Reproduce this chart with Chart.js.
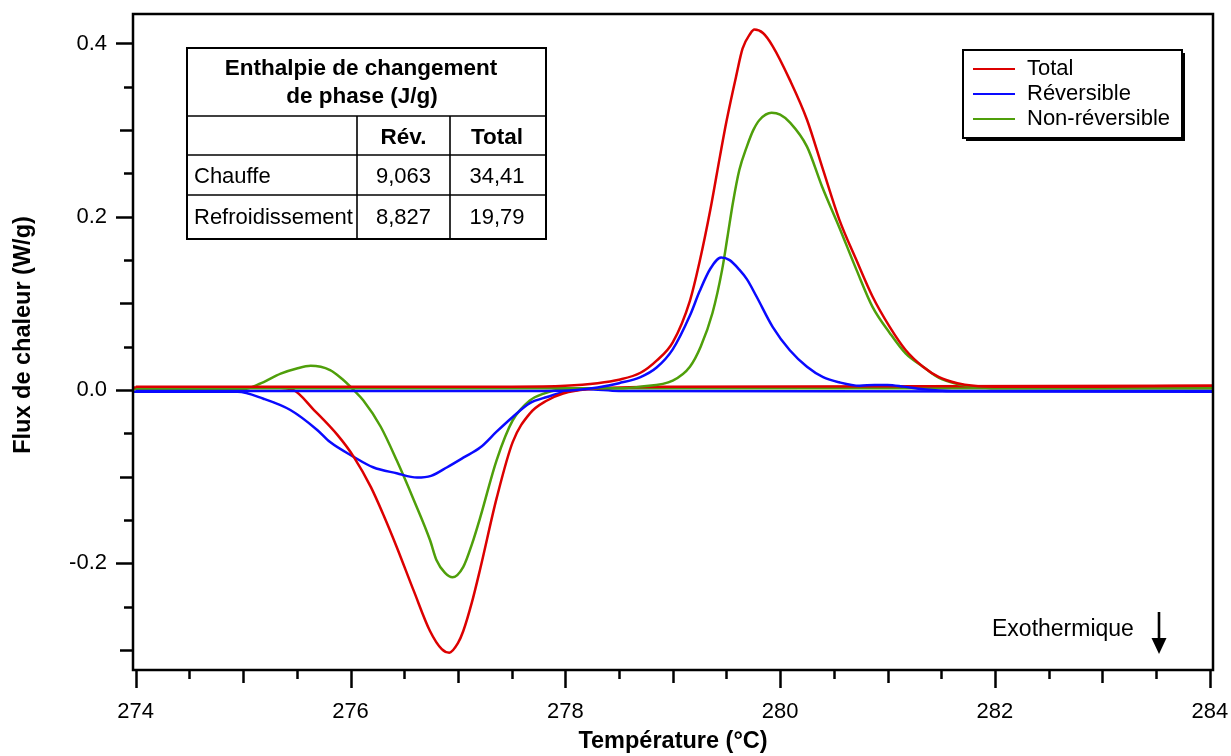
<!DOCTYPE html>
<html lang="fr">
<head>
<meta charset="utf-8">
<title>Flux de chaleur – DSC modulée</title>
<script src="https://cdn.jsdelivr.net/npm/chart.js@4.4.1/dist/chart.umd.min.js"></script>
<style>
  html, body { margin: 0; padding: 0; background: #ffffff; }
  #wrap { position: relative; width: 1231px; height: 756px; }
</style>
</head>
<body>
<div id="wrap"><canvas id="dsc"></canvas></div>
<script>
const FONT = '"Liberation Sans", Arial, Helvetica, sans-serif';

// Series colours
const RED = '#dc0000';
const BLUE = '#0a0aff';
const GREEN = '#4f9f0a';

// Axis ranges and tick labels
const xRange = [273.975, 284.03];
const yRange = [-0.323, 0.434];
const xTickStep = 2;     // labelled: 274 … 284
const yTickStep = 0.2;   // labelled: -0.2 … 0.4
const xTitle = 'Température (°C)';
const yTitle = 'Flux de chaleur (W/g)';

// Heating scan (Chauffe): temperature (°C) and heat flow (W/g)
const heatTotalT = [274.0, 277.5, 278.0, 278.3, 278.5, 278.7, 278.85, 279.0, 279.16, 279.25, 279.35, 279.44, 279.5, 279.59, 279.65, 279.72, 279.76, 279.84, 279.93, 280.09, 280.25, 280.4, 280.55, 280.71, 280.86, 281.02, 281.17, 281.33, 281.48, 281.65, 281.8, 282.0, 283.0, 284.03];
const heatTotalV = [0.004, 0.004, 0.005, 0.008, 0.012, 0.020, 0.034, 0.055, 0.103, 0.148, 0.208, 0.270, 0.310, 0.362, 0.394, 0.411, 0.416, 0.412, 0.397, 0.358, 0.312, 0.254, 0.197, 0.150, 0.108, 0.073, 0.046, 0.027, 0.015, 0.008, 0.005, 0.004, 0.004, 0.005];

const heatRevT = [274.0, 277.8, 278.1, 278.3, 278.5, 278.7, 278.85, 279.0, 279.16, 279.25, 279.35, 279.45, 279.53, 279.62, 279.69, 279.78, 279.93, 280.09, 280.25, 280.4, 280.55, 280.74, 280.88, 281.0, 281.15, 281.33, 281.6, 282.0, 284.03];
const heatRevV = [-0.001, -0.001, 0.0, 0.003, 0.008, 0.015, 0.026, 0.047, 0.086, 0.114, 0.140, 0.153, 0.150, 0.139, 0.128, 0.108, 0.073, 0.046, 0.027, 0.015, 0.009, 0.005, 0.006, 0.006, 0.004, 0.001, -0.001, -0.001, -0.001];

const heatNonRevT = [274.0, 278.5, 278.7, 279.0, 279.16, 279.26, 279.37, 279.46, 279.51, 279.56, 279.62, 279.69, 279.75, 279.81, 279.92, 280.0, 280.09, 280.25, 280.39, 280.55, 280.71, 280.86, 281.02, 281.17, 281.33, 281.48, 281.65, 281.8, 282.0, 284.03];
const heatNonRevV = [0.002, 0.002, 0.004, 0.011, 0.027, 0.050, 0.089, 0.139, 0.177, 0.216, 0.254, 0.281, 0.300, 0.312, 0.320, 0.318, 0.309, 0.281, 0.235, 0.188, 0.139, 0.096, 0.066, 0.042, 0.027, 0.014, 0.007, 0.004, 0.002, 0.002];

// Cooling scan (Refroidissement)
const coolTotalT = [273.975, 275.3, 275.47, 275.66, 275.88, 276.03, 276.19, 276.31, 276.43, 276.59, 276.74, 276.85, 276.92, 277.0, 277.05, 277.13, 277.21, 277.36, 277.51, 277.67, 277.83, 277.98, 278.2, 279.0, 284.03];
const coolTotalV = [0.003, 0.003, 0.0, -0.023, -0.052, -0.077, -0.112, -0.145, -0.181, -0.232, -0.278, -0.299, -0.303, -0.292, -0.278, -0.245, -0.205, -0.125, -0.060, -0.027, -0.012, -0.004, 0.001, 0.004, 0.005];

const coolRevT = [273.975, 274.95, 275.19, 275.44, 275.69, 275.81, 276.03, 276.21, 276.43, 276.62, 276.75, 276.9, 277.05, 277.21, 277.36, 277.51, 277.67, 277.83, 278.0, 278.2, 278.5, 284.03];
const coolRevV = [-0.002, -0.002, -0.010, -0.023, -0.046, -0.060, -0.077, -0.089, -0.096, -0.101, -0.099, -0.089, -0.078, -0.066, -0.048, -0.031, -0.015, -0.008, -0.002, 0.001, -0.001, -0.002];

const coolNonRevT = [273.975, 275.0, 275.15, 275.35, 275.5, 275.63, 275.81, 275.92, 276.03, 276.12, 276.28, 276.43, 276.59, 276.74, 276.8, 276.88, 276.95, 277.05, 277.13, 277.21, 277.36, 277.51, 277.67, 277.8, 277.92, 278.2, 284.03];
const coolNonRevV = [0.001, 0.001, 0.007, 0.019, 0.025, 0.028, 0.023, 0.013, 0.0, -0.012, -0.042, -0.081, -0.127, -0.173, -0.196, -0.211, -0.216, -0.204, -0.178, -0.146, -0.081, -0.035, -0.012, -0.004, 0.0, 0.002, 0.002];

// Enthalpy table
const tableTitle = ['Enthalpie de changement', 'de phase (J/g)'];
const tableColumns = ['Rév.', 'Total'];
const tableRows = ['Chauffe', 'Refroidissement'];
const tableRev = ['9,063', '8,827'];
const tableTotal = ['34,41', '19,79'];

const seriesNames = ['Total', 'Réversible', 'Non-réversible'];
const exoLabel = 'Exothermique';

function pairs(ts, vs) { return ts.map((t, i) => ({ x: t, y: vs[i] })); }

function line(label, color, ts, vs) {
  return {
    label, data: pairs(ts, vs),
    borderColor: color, backgroundColor: color,
    borderWidth: 2.5, pointRadius: 0, fill: false,
    cubicInterpolationMode: 'monotone'
  };
}

// Box frame, three-level tick marks, y title, table, legend and exotherm arrow
const decorations = {
  id: 'decorations',
  afterDraw(chart) {
    const { ctx, chartArea: a, scales: { x, y } } = chart;
    ctx.save();
    ctx.strokeStyle = '#000';
    ctx.fillStyle = '#000';
    ctx.lineCap = 'butt';

    // plot frame
    ctx.lineWidth = 2.5;
    ctx.strokeRect(a.left, a.top, a.right - a.left, a.bottom - a.top);

    // y ticks every 0.05, longer on 0.1 and 0.2
    for (let k = Math.ceil(y.min / 0.05 - 1e-9); k * 0.05 <= y.max + 1e-9; k++) {
      const py = Math.round(y.getPixelForValue(k * 0.05)) + 0.5;
      const len = (k % 4 === 0) ? 17 : (k % 2 === 0 ? 13 : 9);
      ctx.beginPath();
      ctx.moveTo(a.left - len, py);
      ctx.lineTo(a.left, py);
      ctx.stroke();
    }
    // x ticks every 0.5, longer on 1 and 2
    for (let k = Math.ceil(x.min / 0.5 - 1e-9); k * 0.5 <= x.max + 1e-9; k++) {
      const px = Math.round(x.getPixelForValue(k * 0.5)) + 0.5;
      const len = (k % 4 === 0) ? 18 : (k % 2 === 0 ? 13 : 9);
      ctx.beginPath();
      ctx.moveTo(px, a.bottom);
      ctx.lineTo(px, a.bottom + len);
      ctx.stroke();
    }

    // y axis title (rotated)
    ctx.save();
    ctx.translate(24, 335);
    ctx.rotate(-Math.PI / 2);
    ctx.font = 'bold 23.5px ' + FONT;
    ctx.textAlign = 'center';
    ctx.textBaseline = 'middle';
    ctx.fillText(yTitle, 0, 0);
    ctx.restore();

    // enthalpy table
    const T = { left: 187, right: 546, top: 48, bottom: 239, rows: [116, 155, 195], cols: [357, 450] };
    ctx.fillStyle = '#fff';
    ctx.fillRect(T.left, T.top, T.right - T.left, T.bottom - T.top);
    ctx.fillStyle = '#000';
    ctx.lineWidth = 2;
    ctx.strokeRect(T.left, T.top, T.right - T.left, T.bottom - T.top);
    ctx.lineWidth = 1.6;
    T.rows.forEach(r => { ctx.beginPath(); ctx.moveTo(T.left, r); ctx.lineTo(T.right, r); ctx.stroke(); });
    T.cols.forEach(c => { ctx.beginPath(); ctx.moveTo(c, T.rows[0]); ctx.lineTo(c, T.bottom); ctx.stroke(); });

    ctx.textBaseline = 'middle';
    ctx.textAlign = 'center';
    ctx.font = 'bold 22.5px ' + FONT;
    ctx.fillText(tableTitle[0], 361, 69);
    ctx.fillText(tableTitle[1], 362, 97);
    const colCenters = [403.5, 497];
    ctx.fillText(tableColumns[0], colCenters[0], 137.5);
    ctx.fillText(tableColumns[1], colCenters[1], 137.5);
    ctx.font = '22px ' + FONT;
    const rowMid = [176.5, 217.5];
    tableRows.forEach((name, i) => {
      ctx.textAlign = 'left';
      ctx.fillText(name, 194, rowMid[i]);
      ctx.textAlign = 'center';
      ctx.fillText(tableRev[i], colCenters[0], rowMid[i]);
      ctx.fillText(tableTotal[i], colCenters[1], rowMid[i]);
    });

    // legend with drop shadow
    const L = { left: 963, top: 50, w: 219, h: 88 };
    ctx.fillStyle = '#000';
    ctx.fillRect(L.left + 3, L.top + 3, L.w, L.h);
    ctx.fillStyle = '#fff';
    ctx.fillRect(L.left, L.top, L.w, L.h);
    ctx.lineWidth = 2;
    ctx.strokeRect(L.left, L.top, L.w, L.h);
    const seen = [];
    chart.data.datasets.forEach(ds => {
      if (seen.find(s => s.label === ds.label)) return;
      seen.push(ds);
    });
    ctx.font = '22px ' + FONT;
    ctx.textAlign = 'left';
    ctx.textBaseline = 'middle';
    seen.forEach((ds, i) => {
      const ly = 69 + i * 25;
      ctx.strokeStyle = ds.borderColor;
      ctx.lineWidth = 2;
      ctx.beginPath();
      ctx.moveTo(973, ly);
      ctx.lineTo(1015, ly);
      ctx.stroke();
      ctx.fillStyle = '#000';
      ctx.fillText(ds.label, 1027, ly);
    });

    // exotherm direction
    ctx.fillStyle = '#000';
    ctx.strokeStyle = '#000';
    ctx.font = '23px ' + FONT;
    ctx.textAlign = 'left';
    ctx.fillText(exoLabel, 992, 630);
    ctx.lineWidth = 2.6;
    ctx.beginPath();
    ctx.moveTo(1159, 612);
    ctx.lineTo(1159, 642);
    ctx.stroke();
    ctx.beginPath();
    ctx.moveTo(1151.5, 638);
    ctx.lineTo(1166.5, 638);
    ctx.lineTo(1159, 654);
    ctx.closePath();
    ctx.fill();

    ctx.restore();
  }
};

new Chart(document.getElementById('dsc'), {
  type: 'line',
  data: {
    datasets: [
      line(seriesNames[0], RED, heatTotalT, heatTotalV),
      line(seriesNames[1], BLUE, heatRevT, heatRevV),
      line(seriesNames[2], GREEN, heatNonRevT, heatNonRevV),
      line(seriesNames[0], RED, coolTotalT, coolTotalV),
      line(seriesNames[1], BLUE, coolRevT, coolRevV),
      line(seriesNames[2], GREEN, coolNonRevT, coolNonRevV)
    ]
  },
  options: {
    responsive: true,
    maintainAspectRatio: false,
    devicePixelRatio: 1,
    animation: false,
    layout: { padding: { top: 14, right: 18, left: 0, bottom: 0 } },
    plugins: { legend: { display: false }, tooltip: { enabled: false } },
    scales: {
      x: {
        type: 'linear',
        min: xRange[0], max: xRange[1],
        grid: { display: false, drawTicks: false },
        border: { display: false },
        ticks: {
          stepSize: xTickStep, includeBounds: false, autoSkip: false,
          maxRotation: 0, padding: 29, color: '#000',
          font: { family: FONT, size: 22 },
          callback: v => String(Math.round(v))
        },
        title: {
          display: true, text: xTitle, color: '#000',
          font: { family: FONT, size: 23.5, weight: 'bold' },
          padding: { top: 0, bottom: 0 }
        },
        afterFit: s => { s.height = 86; s.paddingLeft = 0; s.paddingRight = 0; }
      },
      y: {
        type: 'linear',
        min: yRange[0], max: yRange[1],
        grid: { display: false, drawTicks: false },
        border: { display: false },
        ticks: {
          stepSize: yTickStep, includeBounds: false, autoSkip: false,
          padding: 26, color: '#000',
          font: { family: FONT, size: 22 },
          callback: v => v.toFixed(1)
        },
        title: { display: false, text: yTitle },
        afterFit: s => { s.width = 133; s.paddingTop = 0; s.paddingBottom = 0; }
      }
    }
  },
  plugins: [decorations]
});
</script>
</body>
</html>
